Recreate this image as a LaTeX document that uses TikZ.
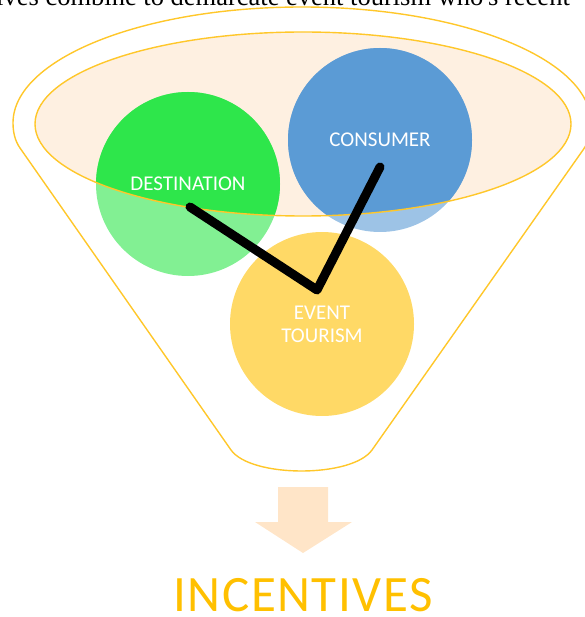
\documentclass[tikz,border=0pt]{standalone}
\usepackage{fontspec}
\usepackage{tikz}
\newfontfamily\calib{Carlito}
\newfontfamily\calibwide[LetterSpace=3]{Carlito}
\newfontfamily\timesf{Liberation Serif}
\definecolor{destgreen}{HTML}{2EE64B}
\definecolor{consblue}{HTML}{5B9BD5}
\definecolor{eventgold}{HTML}{FFC000}
\definecolor{rimgold}{HTML}{FFC72A}
\definecolor{peach}{HTML}{FEF0E1}
\definecolor{arrowpeach}{HTML}{FFE5C8}

\begin{document}
\begin{tikzpicture}[x=1pt,y=1pt]
    \tikzstyle{bubble}=[circle,minimum size=184pt,inner sep=0pt,fill opacity=0.6]
    \tikzstyle{bubbletext}=[text=white,font=\calib\fontsize{21}{23}\selectfont,align=center]
    \tikzstyle{rim}=[draw=rimgold,line width=1.4pt]

    \useasboundingbox (0,0) rectangle (584,-617);

    % line of the page above, cut off
    \node[anchor=base west,inner sep=0pt,font=\timesf\fontsize{26.5}{30}\selectfont] (pageline) at (-4,-6) {ives combine to demarcate event tourism who's recent};

    % funnel
    \draw[rim] (13,-123) arc[start angle=180,end angle=0,x radius=289,y radius=116]
        .. controls (591,-135) and (588,-143) .. (583,-150) -- (372,-450)
        .. controls (352,-478) and (251,-478) .. (231,-450) -- (20,-148)
        .. controls (15,-141) and (13,-132) .. (13,-123) -- cycle;
    \fill[peach] (303,-124) ellipse [x radius=268,y radius=92];

    \node[bubble,fill=destgreen] (dest) at (188,-184) {};
    \node[bubble,fill=consblue] (cons) at (380,-140) {};
    \node[bubble,fill=eventgold] (event) at (322,-324) {};

    \begin{scope}
        \clip (303,-124) ellipse [x radius=268,y radius=92];
        \fill[destgreen] (dest.center) circle (92);
        \fill[consblue] (cons.center) circle (92);
    \end{scope}
    \draw[rim] (303,-124) ellipse [x radius=268,y radius=92];

    % the link
    \draw[line width=9pt,line cap=round,line join=round] ([xshift=2pt,yshift=-23pt]dest.center) -- ([xshift=-5pt,yshift=34pt]event.center) -- ([yshift=-27pt]cons.center);

    \node[bubbletext] (dest-t) at (dest) {DESTINATION};
    \node[bubbletext] (cons-t) at (cons) {CONSUMER};
    \node[bubbletext] (event-t) at (event) {EVENT\\TOURISM};

    % arrow and result
    \fill[arrowpeach] (278,-487) -- (328,-487) -- (328,-522) -- (352,-522) -- (303,-553) -- (255,-522) -- (278,-522) -- cycle;
    \node[text=eventgold,font=\calibwide\fontsize{51}{56}\selectfont,anchor=base,inner sep=0pt] (incent) at (303,-611) {INCENTIVES};
\end{tikzpicture}
\end{document}
